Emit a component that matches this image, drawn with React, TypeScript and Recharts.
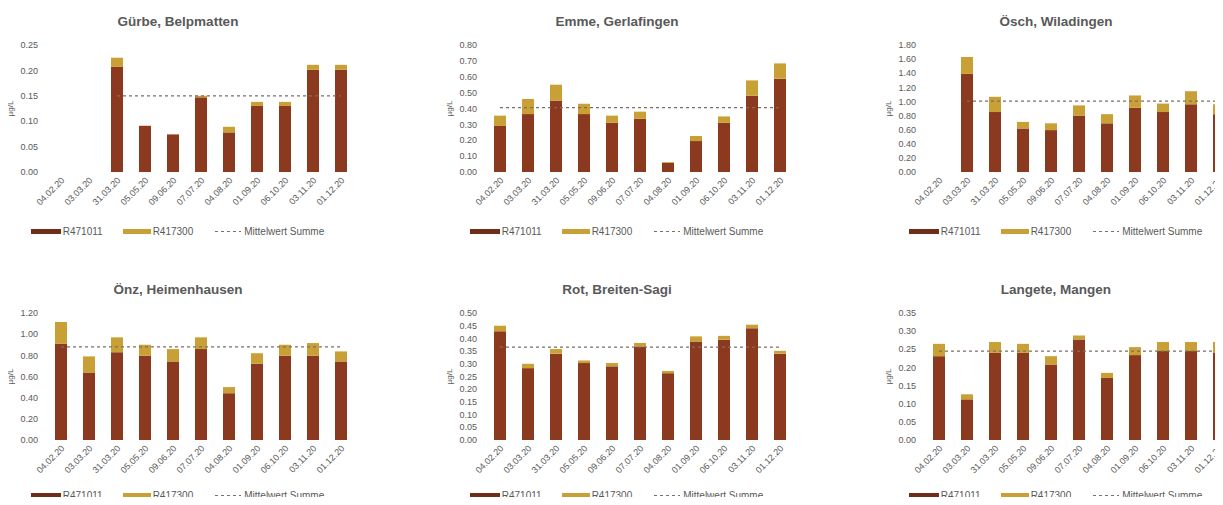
import React from 'react';
import { ComposedChart, Bar, Line, XAxis, YAxis, Legend } from 'recharts';

const DATES = ['04.02.20', '03.03.20', '31.03.20', '05.05.20', '09.06.20', '07.07.20', '04.08.20', '01.09.20', '06.10.20', '03.11.20', '01.12.20'];

const SERIES_A = 'R471011';
const SERIES_B = 'R417300';
const SERIES_MEAN = 'Mittelwert Summe';

const GURBE_A = [null, null, 0.207, 0.091, 0.074, 0.147, 0.078, 0.130, 0.130, 0.201, 0.201];
const GURBE_B = [null, null, 0.018, 0.0, 0.0, 0.003, 0.011, 0.008, 0.008, 0.010, 0.010];
const GURBE_TICKS = [0, 0.05, 0.1, 0.15, 0.2, 0.25];

const EMMO_A = [0.29, 0.365, 0.45, 0.365, 0.31, 0.335, 0.057, 0.195, 0.31, 0.48, 0.588];
const EMMO_B = [0.065, 0.095, 0.1, 0.065, 0.045, 0.045, 0.005, 0.032, 0.04, 0.097, 0.096];
const EMMO_TICKS = [0, 0.1, 0.2, 0.3, 0.4, 0.5, 0.6, 0.7, 0.8];

const OSCH_A = [null, 1.39, 0.85, 0.617, 0.594, 0.8, 0.69, 0.91, 0.85, 0.96, 0.82];
const OSCH_B = [null, 0.24, 0.216, 0.093, 0.096, 0.144, 0.13, 0.175, 0.12, 0.185, 0.14];
const OSCH_TICKS = [0, 0.2, 0.4, 0.6, 0.8, 1.0, 1.2, 1.4, 1.6, 1.8];

const ONZ_A = [0.909, 0.638, 0.83, 0.796, 0.742, 0.859, 0.442, 0.72, 0.796, 0.796, 0.742];
const ONZ_B = [0.206, 0.152, 0.14, 0.104, 0.117, 0.111, 0.058, 0.1, 0.104, 0.12, 0.095];
const ONZ_TICKS = [0, 0.2, 0.4, 0.6, 0.8, 1.0, 1.2];

const ROT_A = [0.428, 0.283, 0.34, 0.303, 0.29, 0.368, 0.263, 0.388, 0.395, 0.44, 0.34];
const ROT_B = [0.022, 0.017, 0.018, 0.01, 0.013, 0.014, 0.009, 0.02, 0.015, 0.014, 0.011];
const ROT_TICKS = [0, 0.05, 0.1, 0.15, 0.2, 0.25, 0.3, 0.35, 0.4, 0.45, 0.5];

const LANGETE_A = [0.231, 0.112, 0.24, 0.24, 0.208, 0.277, 0.171, 0.234, 0.245, 0.245, 0.24];
const LANGETE_B = [0.034, 0.014, 0.03, 0.025, 0.023, 0.011, 0.014, 0.022, 0.025, 0.025, 0.03];
const LANGETE_TICKS = [0, 0.05, 0.1, 0.15, 0.2, 0.25, 0.3, 0.35];

const TITLES = ['Gürbe, Belpmatten', 'Emme, Gerlafingen', 'Ösch, Wiladingen', 'Önz, Heimenhausen', 'Rot, Breiten-Sagi', 'Langete, Mangen'];
const MEANS = [0.15, 0.405, 1.005, 0.88, 0.366, 0.245];

const BROWN = '#8B3A1F';
const GOLD = '#C8A035';
const DASH = '#7d6e64';
const TEXT = '#595959';

const PANELS = [
  { title: TITLES[0], a: GURBE_A, b: GURBE_B, mean: MEANS[0], ticks: GURBE_TICKS },
  { title: TITLES[1], a: EMMO_A, b: EMMO_B, mean: MEANS[1], ticks: EMMO_TICKS },
  { title: TITLES[2], a: OSCH_A, b: OSCH_B, mean: MEANS[2], ticks: OSCH_TICKS },
  { title: TITLES[3], a: ONZ_A, b: ONZ_B, mean: MEANS[3], ticks: ONZ_TICKS },
  { title: TITLES[4], a: ROT_A, b: ROT_B, mean: MEANS[4], ticks: ROT_TICKS },
  { title: TITLES[5], a: LANGETE_A, b: LANGETE_B, mean: MEANS[5], ticks: LANGETE_TICKS },
];

const DateTick = (props: any) => {
  const { x, y, payload } = props;
  return (
    <g transform={`translate(${x + 4},${y + 9}) rotate(-45)`}>
      <text x={0} y={0} textAnchor="end" fontSize={9} fill={TEXT}>
        {payload.value}
      </text>
    </g>
  );
};

const UnitLabel = (props: any) => {
  const vb = props.viewBox || { x: 0, y: 0, width: 0, height: 0 };
  const cx = vb.x + 10;
  const cy = vb.y + vb.height / 2;
  return (
    <text x={cx} y={cy} transform={`rotate(-90 ${cx} ${cy})`} textAnchor="middle" dominantBaseline="central" fontSize={8} fill={TEXT}>
      µg/L
    </text>
  );
};

const LegendContent = () => (
  <div style={{ display: 'flex', justifyContent: 'center', alignItems: 'center', height: 28, fontSize: 10, color: TEXT }}>
    <span style={{ display: 'inline-block', width: 30, height: 5, background: '#6e2e1a', marginRight: 2 }} />
    <span style={{ marginRight: 20 }}>{SERIES_A}</span>
    <span style={{ display: 'inline-block', width: 28, height: 5, background: GOLD, marginRight: 2 }} />
    <span style={{ marginRight: 22 }}>{SERIES_B}</span>
    <svg width={26} height={5} style={{ marginRight: 3 }}>
      <line x1={0} y1={2.5} x2={26} y2={2.5} stroke={DASH} strokeWidth={1.2} strokeDasharray="3 3" />
    </svg>
    <span>{SERIES_MEAN}</span>
  </div>
);

const Panel = ({ cfg, left, top, axisH }: any) => {
  const data = DATES.map((d, i) => ({
    date: d,
    a: cfg.a[i],
    b: cfg.b[i],
    mean: cfg.a[i] === null ? null : cfg.mean,
  }));
  const max = cfg.ticks[cfg.ticks.length - 1];
  const h = 45 + 127 + axisH + 28;
  return (
    <div style={{ position: 'absolute', left, top, width: 356, height: h }}>
      <div style={{ position: 'absolute', left: 0, top: 14, width: 356, textAlign: 'center', fontSize: 13.5, fontWeight: 'bold', color: TEXT, lineHeight: '16px', zIndex: 2 }}>
        {cfg.title}
      </div>
      <ComposedChart width={356} height={h} data={data} margin={{ top: 45, right: 1, bottom: 0, left: 0 }} barSize={12}>
        <XAxis dataKey="date" interval={0} tickLine={false} axisLine={false} tickSize={0} tickMargin={0} height={axisH} tick={<DateTick />} />
        <YAxis
          width={47}
          domain={[0, max]}
          ticks={cfg.ticks}
          interval={0}
          tickLine={false}
          axisLine={false}
          tickSize={0}
          tickMargin={9}
          tick={{ fontSize: 9, fill: TEXT }}
          tickFormatter={(v: number) => v.toFixed(2)}
          label={<UnitLabel />}
        />
        <Legend verticalAlign="bottom" height={28} content={<LegendContent />} />
        <Bar dataKey="a" name={SERIES_A} stackId="s" fill={BROWN} isAnimationActive={false} />
        <Bar dataKey="b" name={SERIES_B} stackId="s" fill={GOLD} isAnimationActive={false} />
        <Line dataKey="mean" name={SERIES_MEAN} type="linear" stroke={DASH} strokeWidth={1.2} strokeDasharray="3 3" dot={false} activeDot={false} isAnimationActive={false} />
      </ComposedChart>
    </div>
  );
};

export default function App() {
  return (
    <div style={{ position: 'relative', width: 1223, height: 505, margin: -8, overflow: 'hidden', background: '#fff', fontFamily: '"Liberation Sans", Arial, sans-serif' }}>
      {PANELS.map((cfg, i) => (
        <Panel key={i} cfg={cfg} left={(i % 3) * 439} top={Math.floor(i / 3) * 268} axisH={i < 3 ? 45 : 41} />
      ))}
    </div>
  );
}
